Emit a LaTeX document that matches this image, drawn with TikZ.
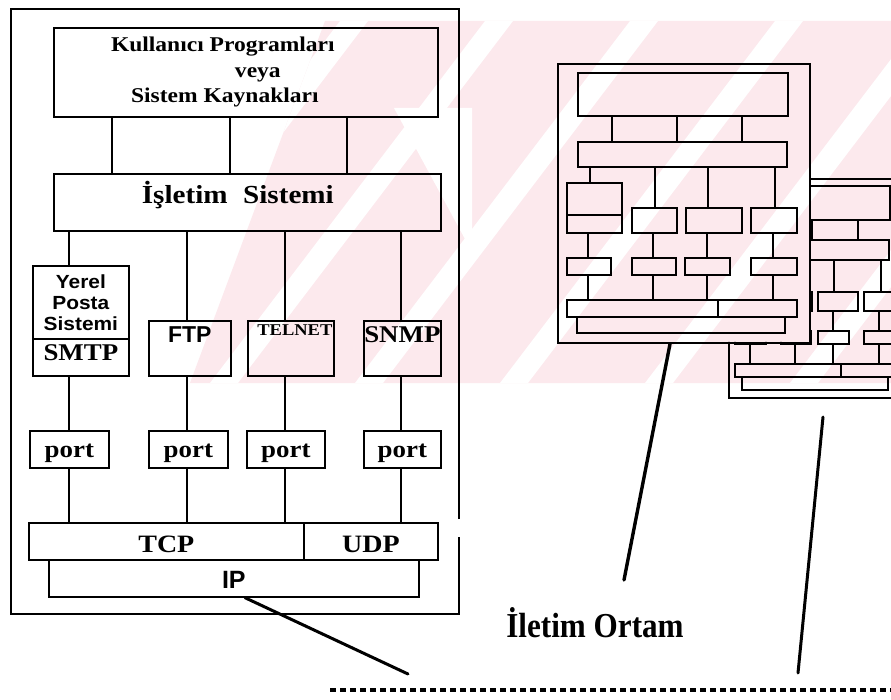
\documentclass[tikz,border=0pt]{standalone}
\usepackage{fontspec}
\usepackage{graphicx}
\setmainfont{Liberation Serif}
\newfontfamily\bkf[FakeStretch=1.12]{Liberation Serif}
\newfontfamily\saf{Liberation Sans}
\newfontfamily\syf[FakeStretch=1.1]{Liberation Sans}
\newfontfamily\iof[FakeStretch=0.89]{Liberation Serif}
\definecolor{wm}{RGB}{252,233,237}
\tikzset{
  box/.style={draw, line width=1.7pt, inner sep=0pt, anchor=north west},
  conn/.style={line width=1.6pt},
  cl/.style={line width=2pt},
  cframe/.style={draw, line width=2pt, inner sep=0pt, anchor=north west},
  bigline/.style={line width=3pt, line cap=round},
  bkbold/.style={font=\bkf\bfseries\fontsize{#1}{#1}\selectfont},
}
\newcommand\mycompinner{%
  \draw[cl] (21,10) rectangle (231,53);
  \draw[cl] (55,53) -- (55,79) (120,53) -- (120,79) (185,53) -- (185,79);
  \draw[cl] (21,79) rectangle (230,104);
  \draw[cl] (33,104) -- (33,120) (98,104) -- (98,145) (151,104) -- (151,145) (218,104) -- (218,145);
  \draw[cl] (10,120) rectangle (65,170) (10,152) -- (65,152);
  \draw[cl] (75,145) rectangle (120,170) (129,145) rectangle (185,170) (194,145) rectangle (240,170);
  \draw[cl] (31,170) -- (31,195) (96,170) -- (96,195) (150,170) -- (150,195) (216,170) -- (216,195);
  \draw[cl] (10,195) rectangle (54,212) (75,195) rectangle (119,212) (128,195) rectangle (173,212) (194,195) rectangle (240,212);
  \draw[cl] (31,212) -- (31,237) (96,212) -- (96,237) (150,212) -- (150,237) (216,212) -- (216,237);
  \draw[cl] (10,237) rectangle (240,254) (161,237) -- (161,254);
  \draw[cl] (20,254) rectangle (228,270);
}
\begin{document}
\begin{tikzpicture}[x=1pt,y=-1pt]
\useasboundingbox (0,0) rectangle (891,700);
\clip (0,0) rectangle (891,700);
\fill[white] (0,0) rectangle (891,700);

% watermark
\begin{scope}
  \clip (190,383) -- (325,21) -- (891,21) -- (891,383) -- cycle;
  \fill[wm] (0,0) rectangle (891,700);
  \foreach \s in {340,485,630,775,920,1065}
    \fill[white] (\s,21) -- (\s+28,21) -- (\s+28-275,383) -- (\s-275,383) -- cycle;
  \fill[white] (394,108) -- (472,108) -- (472,252) -- cycle;
\end{scope}

% main frame
\draw[line width=1.8pt] (459,519) -- (459,9) -- (11,9) -- (11,614) -- (459,614) -- (459,537);

% column coordinates
\coordinate (t1) at (112,0);
\coordinate (t2) at (230,0);
\coordinate (t3) at (347,0);
\coordinate (c1) at (69,0);
\coordinate (c2) at (187,0);
\coordinate (c3) at (285,0);
\coordinate (c4) at (401,0);

\node[box, minimum width=384, minimum height=89, align=center,
      font=\bkf\bfseries\fontsize{21}{25.5}\selectfont] (kp) at (53,27)
  {Kullanıcı Programları\hspace*{46pt}\\\hspace*{24pt}veya\\Sistem Kaynakları\hspace*{42pt}};
\node[box, minimum width=387, text height=30, text depth=27,
      font=\bkf\bfseries\fontsize{26}{30}\selectfont] (is) at (53,173)
  {İşletim\hspace{0.6em}Sistemi\hspace*{19pt}};

\node[box, minimum width=96, minimum height=73, align=center,
      font=\syf\bfseries\fontsize{19}{21}\selectfont] (yerel) at (32,265) {Yerel\\Posta\\Sistemi};
\node[box, minimum width=96, text height=22, text depth=15, bkbold=24] (smtp) at (32,338) {SMTP};
\node[box, minimum width=82, text height=22, text depth=33,
      font=\saf\bfseries\fontsize{23}{23}\selectfont] (ftp) at (148,320) {FTP};
\node[box, minimum width=86, text height=15, text depth=40, bkbold=16.5] (telnet) at (247,320) {\hspace*{8pt}TELNET};
\node[box, minimum width=77, text height=22, text depth=33, bkbold=24] (snmp) at (363,320) {SNMP};

\node[box, minimum width=79, text height=27, text depth=10, bkbold=24] (p1) at (29,430) {port};
\node[box, minimum width=79, text height=27, text depth=10, bkbold=24] (p2) at (148,430) {port};
\node[box, minimum width=78, text height=27, text depth=10, bkbold=24] (p3) at (246,430) {port};
\node[box, minimum width=77, text height=27, text depth=10, bkbold=24] (p4) at (363,430) {port};

\node[box, minimum width=275, text height=30, text depth=7, bkbold=25] (tcp) at (28,522) {TCP};
\node[box, minimum width=134, text height=30, text depth=7, bkbold=25] (udp) at (303,522) {UDP};
\node[box, minimum width=370, text height=29, text depth=8,
      font=\saf\bfseries\fontsize{25}{25}\selectfont] (ip) at (48,559) {IP};

% connectors
\foreach \t in {t1,t2,t3} \draw[conn] (kp.south -| \t) -- (is.north -| \t);
\draw[conn] (is.south -| c1) -- (yerel.north -| c1);
\draw[conn] (is.south -| c2) -- (ftp.north -| c2);
\draw[conn] (is.south -| c3) -- (telnet.north -| c3);
\draw[conn] (is.south -| c4) -- (snmp.north -| c4);
\draw[conn] (smtp.south -| c1) -- (p1.north -| c1);
\draw[conn] (ftp.south -| c2) -- (p2.north -| c2);
\draw[conn] (telnet.south -| c3) -- (p3.north -| c3);
\draw[conn] (snmp.south -| c4) -- (p4.north -| c4);
\draw[conn] (p1.south -| c1) -- (tcp.north -| c1);
\draw[conn] (p2.south -| c2) -- (tcp.north -| c2);
\draw[conn] (p3.south -| c3) -- (tcp.north -| c3);
\draw[conn] (p4.south -| c4) -- (udp.north -| c4);

% second computer (behind)
\begin{scope}
  \clip (809,0) -- (891,0) -- (891,700) -- (700,700) -- (700,342) -- (809,342) -- cycle;
  \node[cframe, minimum width=176, minimum height=219] (comp2) at (728,178) {};
  \begin{scope}[shift={(728,178)}, xscale=0.7, yscale=0.785]
    \mycompinner
  \end{scope}
\end{scope}

% first computer
\node[cframe, minimum width=252, minimum height=279] (comp1) at (557,63) {};
\begin{scope}[shift={(557,63)}]
  \mycompinner
\end{scope}

% lines to the medium
\coordinate (ipx) at (245,0);
\coordinate (ipend) at (408,674);
\draw[bigline] (ip.south -| ipx) -- (ipend);
\coordinate (l1x) at (670,0);
\coordinate (l1end) at (624,580);
\draw[bigline, line width=3.4pt] (comp1.south -| l1x) -- (l1end);
\coordinate (l2a) at (823,417);
\coordinate (l2b) at (798,673);
\draw[bigline] (l2a) -- (l2b);

\node[anchor=base, font=\iof\bfseries\fontsize{35}{35}\selectfont] (iletim) at (595,637) {İletim Ortam};

% medium (dotted line)
\coordinate (m1) at (330,690);
\coordinate (m2) at (895,690);
\draw[line width=4.5pt, dash pattern=on 6pt off 4pt] (m1) -- (m2);
\end{tikzpicture}
\end{document}
